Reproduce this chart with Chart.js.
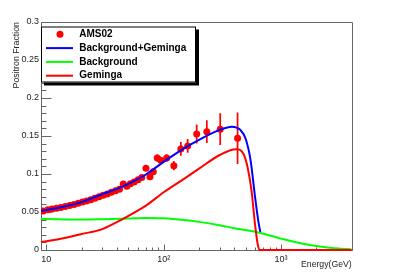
<!DOCTYPE html>
<html lang="en">
<head>
<meta charset="utf-8">
<script src="https://cdn.jsdelivr.net/npm/chart.js@4.4.1/dist/chart.umd.min.js"></script>
<style>
    html, body { margin: 0; padding: 0; background: #fff; }
    #wrap { width: 409px; height: 278px; }
</style>
</head>
<body>
<div id="wrap"><canvas id="fractionChart" width="409" height="278"></canvas></div>

<script>
    // AMS02 positron fraction (energy in GeV)
    const amsEnergy = [9.4, 10.3, 11.2, 12.2, 13.3, 14.5, 15.8, 17.2, 18.7, 20.3, 22.0, 23.9, 25.9,
        28.1, 30.5, 33.0, 35.8, 38.8, 42.0, 45.2, 48.5, 52.0, 56.0, 60.5, 65.0, 70.6, 76.4, 81.5,
        88.1, 94.2, 106, 122, 140, 160, 191, 233, 303, 426];
    const amsFraction = [0.0513, 0.0528, 0.0538, 0.0550, 0.0560, 0.0572, 0.0586, 0.0600, 0.0614, 0.0630, 0.0646, 0.0662, 0.0680,
        0.0700, 0.0722, 0.0738, 0.0760, 0.0778, 0.0800, 0.0870, 0.0840, 0.0872, 0.0895, 0.0925, 0.0955, 0.1075, 0.0965, 0.1030,
        0.1210, 0.1180, 0.1210, 0.1110, 0.1330, 0.1370, 0.1525, 0.1557, 0.1590, 0.1470];
    const amsError = [0.0010, 0.0010, 0.0010, 0.0010, 0.0010, 0.0010, 0.0010, 0.0010, 0.0010, 0.0011, 0.0012, 0.0012, 0.0013,
        0.0014, 0.0015, 0.0016, 0.0017, 0.0018, 0.0020, 0.0022, 0.0024, 0.0026, 0.0028, 0.0030, 0.0032, 0.0035, 0.0035, 0.0040,
        0.0045, 0.0045, 0.0050, 0.0060, 0.0090, 0.0090, 0.0125, 0.0150, 0.0210, 0.0340];

    // Background+Geminga
    const totalEnergy = [9, 10, 15, 20, 30, 40, 50, 70, 100, 150, 200, 300, 380, 450, 500, 550, 600, 640, 668];
    const totalFraction = [0.0515, 0.0525, 0.0580, 0.0630, 0.0735, 0.0805, 0.0870, 0.0990, 0.1160, 0.1340, 0.1450, 0.1580, 0.1623, 0.1580, 0.1460, 0.1180, 0.0700, 0.0380, 0.0225];

    // Background
    const bgEnergy = [9, 10, 15, 20, 30, 50, 70, 100, 150, 200, 300, 400, 650, 1000, 1500, 2000, 3000, 4000];
    const bgFraction = [0.0408, 0.0408, 0.0402, 0.0400, 0.0405, 0.0415, 0.0422, 0.0418, 0.0395, 0.0370, 0.0325, 0.0287, 0.0228, 0.0150, 0.0085, 0.0053, 0.0020, 0.0008];

    // Geminga
    const gemEnergy = [9, 10, 15, 20, 30, 45, 70, 100, 150, 200, 300, 415, 480, 520, 560, 600, 630, 656, 4000];
    const gemFraction = [0.0105, 0.0115, 0.0165, 0.0210, 0.0275, 0.0410, 0.0580, 0.0760, 0.0940, 0.1070, 0.1250, 0.1325, 0.1260, 0.1080, 0.0780, 0.0340, 0.0090, 0, 0];

    const xTickValues = [10, 100, 1000];
    const xTickLabels = ['10', '10²', '10³'];
    const yTickValues = [0, 0.05, 0.1, 0.15, 0.2, 0.25, 0.3];
    const yTickLabels = ['0', '0.05', '0.1', '0.15', '0.2', '0.25', '0.3'];

    const zip = (xs, ys) => xs.map((v, i) => ({ x: v, y: ys[i] }));
    const fontFamily = '"Liberation Sans", Arial, Helvetica, sans-serif';

    // error bars on the AMS02 points
    const errorBars = {
        id: 'errorBars',
        afterDatasetDraw(chart, args) {
            if (args.index !== 0) return;
            const { ctx, scales: { x, y } } = chart;
            ctx.save();
            ctx.strokeStyle = '#ff0000';
            ctx.lineWidth = 1.7;
            ctx.beginPath();
            amsEnergy.forEach((e, i) => {
                const px = x.getPixelForValue(e);
                ctx.moveTo(px, y.getPixelForValue(amsFraction[i] - amsError[i]));
                ctx.lineTo(px, y.getPixelForValue(amsFraction[i] + amsError[i]));
            });
            ctx.stroke();
            ctx.restore();
        }
    };

    // ROOT style frame with inner tick marks
    const rootFrame = {
        id: 'rootFrame',
        beforeDatasetsDraw(chart) {
            const { ctx, chartArea: a, scales: { x, y } } = chart;
            const l = Math.round(a.left) + 0.5, t = Math.round(a.top) + 0.5;
            const r = Math.round(a.right) + 0.5, b = Math.round(a.bottom) + 0.5;
            ctx.save();
            ctx.strokeStyle = '#666';
            ctx.lineWidth = 1;
            ctx.beginPath();
            ctx.rect(l, t, r - l, b - t);
            for (let k = 0; k <= 30; k++) {
                const py = Math.round(y.getPixelForValue(k / 100)) + 0.5;
                const len = k % 5 === 0 ? 10 : 5;
                ctx.moveTo(l, py);
                ctx.lineTo(l + len, py);
            }
            for (let dec = 1; dec <= 1000; dec *= 10) {
                for (let m = 1; m <= 9; m++) {
                    const v = m * dec;
                    if (v < x.min || v > x.max) continue;
                    const px = Math.round(x.getPixelForValue(v)) + 0.5;
                    const len = m === 1 ? 6 : 3;
                    ctx.moveTo(px, b);
                    ctx.lineTo(px, b - len);
                }
            }
            ctx.stroke();
            ctx.restore();
        }
    };

    // boxed legend with shadow
    const legendBox = {
        id: 'legendBox',
        afterDraw(chart) {
            const ctx = chart.ctx;
            const left = 41, top = 26.5, w = 155, h = 56;
            ctx.save();
            ctx.fillStyle = '#000';
            ctx.fillRect(left + 3, top + 3, w, h);
            ctx.fillStyle = '#fff';
            ctx.fillRect(left, top, w, h);
            ctx.strokeStyle = '#000';
            ctx.lineWidth = 1;
            ctx.strokeRect(left + 0.5, top + 0.5, w - 1, h - 1);
            ctx.font = 'bold 10px ' + fontFamily;
            ctx.textBaseline = 'middle';
            chart.data.datasets.forEach((ds, i) => {
                const cy = top + 7.8 + i * 13.8;
                if (i === 0) {
                    ctx.fillStyle = ds.backgroundColor;
                    ctx.beginPath();
                    ctx.arc(60, cy, 3.5, 0, Math.PI * 2);
                    ctx.fill();
                } else {
                    ctx.strokeStyle = ds.borderColor;
                    ctx.lineWidth = 2;
                    ctx.beginPath();
                    ctx.moveTo(46, cy);
                    ctx.lineTo(73, cy);
                    ctx.stroke();
                }
                ctx.fillStyle = '#000';
                ctx.fillText(ds.label, 79.3, cy);
            });
            ctx.restore();
        }
    };

    const lineStyle = {
        type: 'line',
        pointRadius: 0,
        borderWidth: 2,
        fill: false,
        cubicInterpolationMode: 'monotone'
    };

    new Chart(document.getElementById('fractionChart'), {
        type: 'scatter',
        data: {
            datasets: [
                {
                    label: 'AMS02',
                    data: zip(amsEnergy, amsFraction),
                    backgroundColor: '#ff0000',
                    borderWidth: 0,
                    pointRadius: 3.5,
                    order: 4
                },
                { ...lineStyle, label: 'Background+Geminga', data: zip(totalEnergy, totalFraction), borderColor: '#0000ff', order: 3 },
                { ...lineStyle, label: 'Background', data: zip(bgEnergy, bgFraction), borderColor: '#00ff00', order: 2 },
                { ...lineStyle, label: 'Geminga', data: zip(gemEnergy, gemFraction), borderColor: '#ff0000', order: 1, clip: false }
            ]
        },
        options: {
            responsive: false,
            animation: false,
            devicePixelRatio: 1,
            events: [],
            layout: { padding: { top: 22, right: 57.3, bottom: 0, left: 0 } },
            plugins: { legend: { display: false }, tooltip: { enabled: false } },
            scales: {
                x: {
                    type: 'logarithmic',
                    min: 9,
                    max: 4000,
                    grid: { display: false, drawTicks: false },
                    border: { display: false },
                    afterBuildTicks: scale => { scale.ticks = xTickValues.map(v => ({ value: v })); },
                    afterFit: scale => { scale.height = 28; },
                    ticks: {
                        autoSkip: false,
                        maxRotation: 0,
                        padding: 4,
                        color: '#222',
                        font: { size: 9, family: fontFamily },
                        callback: (v, i) => xTickLabels[i]
                    },
                    title: {
                        display: true,
                        text: 'Energy(GeV)',
                        align: 'end',
                        color: '#222',
                        font: { size: 8.7, family: fontFamily },
                        padding: { top: 0, bottom: 7.8 }
                    }
                },
                y: {
                    type: 'linear',
                    min: 0,
                    max: 0.3,
                    grid: { display: false, drawTicks: false },
                    border: { display: false },
                    afterBuildTicks: scale => { scale.ticks = yTickValues.map(v => ({ value: v })); },
                    afterFit: scale => { scale.width = 41; },
                    ticks: {
                        padding: 2,
                        color: '#222',
                        font: { size: 9, family: fontFamily },
                        callback: (v, i) => yTickLabels[i]
                    },
                    title: {
                        display: true,
                        text: 'Positron Fraction',
                        align: 'end',
                        color: '#222',
                        font: { size: 8.8, family: fontFamily },
                        padding: { top: 11.7, bottom: 0 }
                    }
                }
            }
        },
        plugins: [rootFrame, errorBars, legendBox]
    });
</script>
</body>
</html>
